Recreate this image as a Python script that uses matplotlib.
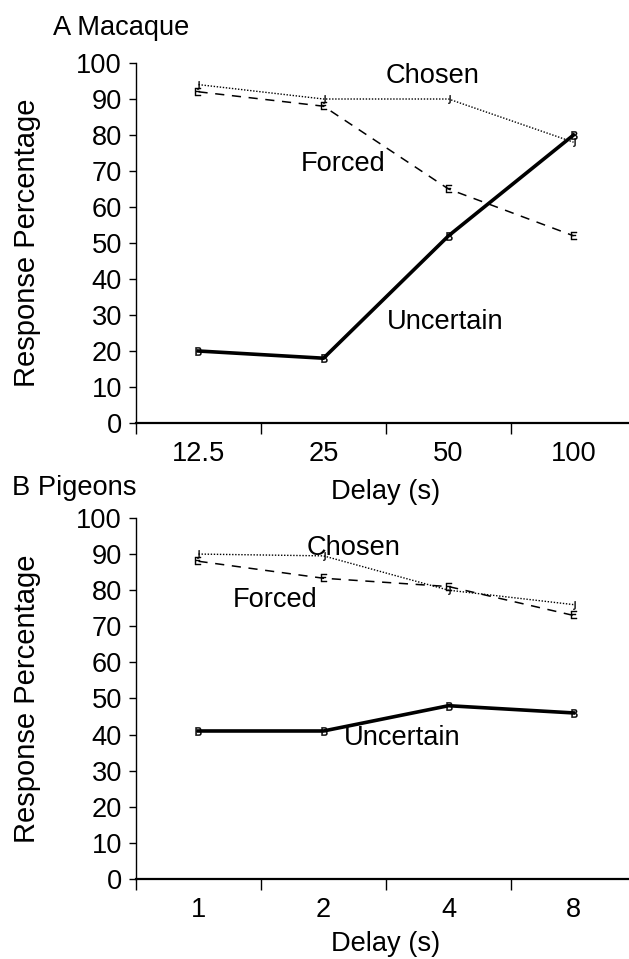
import numpy as np
import matplotlib.pyplot as plt

plt.rcParams['font.family'] = ['Liberation Sans', 'DejaVu Sans']
plt.rcParams['font.size'] = 19.6

# Panel A: macaque
delays_a = ['12.5', '25', '50', '100']
chosen_a = [94, 90, 90, 78]
forced_a = [92, 88, 65, 52]
uncertain_a = [20, 18, 52, 80]

# Panel B: pigeons
delays_b = ['1', '2', '4', '8']
chosen_b = [90, 89.5, 80, 76]
forced_b = [88, 83.3, 81, 73]
uncertain_b = [41, 41, 48, 46]

yticks = list(range(0, 101, 10))


def panel(ax, delays, chosen, forced, uncertain, label_pos):
    x = np.arange(len(delays))
    ax.plot(x, chosen, color='black', linestyle=(0, (1, 1.2)), linewidth=1.0,
            marker=r'$\mathrm{J}$', markersize=6, markeredgewidth=0.3)
    ax.plot(x, forced, color='black', linestyle=(0, (6, 5)), linewidth=1.1,
            marker=r'$\mathrm{E}$', markersize=6, markeredgewidth=0.3)
    ax.plot(x, uncertain, color='black', linestyle='-', linewidth=2.6,
            marker=r'$\mathrm{B}$', markersize=6, markeredgewidth=0.3)

    for txt, (tx, ty) in label_pos.items():
        ax.text(tx, ty, txt, ha='center', va='center')

    ax.set_xlim(-0.5, len(delays) - 0.5)
    ax.set_ylim(0, 100)
    ax.set_yticks(yticks)
    ax.set_xticks(x)
    ax.set_xticklabels(delays)
    ax.set_xticks(np.arange(len(delays)) - 0.5, minor=True)
    ax.tick_params(axis='x', which='major', length=0, pad=13)
    ax.tick_params(axis='x', which='minor', length=8, width=1, direction='out')
    ax.tick_params(axis='y', length=5, width=1, direction='out', pad=5)

    for side in ['top', 'right']:
        ax.spines[side].set_visible(False)
    ax.spines['left'].set_linewidth(1)
    ax.spines['bottom'].set_linewidth(1.6)

    ax.set_ylabel('Response Percentage', fontsize=21)
    ax.yaxis.set_label_coords(-0.19, 0.5)
    ax.set_xlabel('Delay (s)')


fig = plt.figure(figsize=(6.29, 9.59), dpi=100)

ax_a = fig.add_axes([0.2162, 0.5589, 0.795, 0.3754])
panel(ax_a, delays_a, chosen_a, forced_a, uncertain_a,
      {'Chosen': (1.87, 96.4), 'Forced': (1.16, 72), 'Uncertain': (1.97, 28)})
ax_a.xaxis.set_label_coords(0.5, -0.155)

ax_b = fig.add_axes([0.2162, 0.0834, 0.795, 0.3765])
panel(ax_b, delays_b, chosen_b, forced_b, uncertain_b,
      {'Chosen': (1.24, 91.7), 'Forced': (0.61, 77.3), 'Uncertain': (1.63, 39)})
ax_b.xaxis.set_label_coords(0.5, -0.145)

fig.text(53 / 629, 1 - 28 / 959, 'A Macaque', ha='left', va='center')
fig.text(12 / 629, 1 - 488 / 959, 'B Pigeons', ha='left', va='center')

fig.savefig('out.png', dpi=100)
